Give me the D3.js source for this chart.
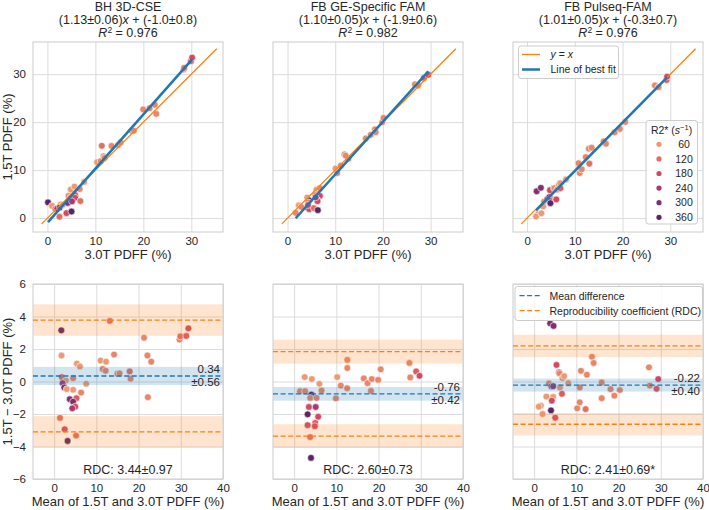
<!DOCTYPE html>
<html>
<head>
<meta charset="utf-8">
<script src="https://cdn.jsdelivr.net/npm/d3@7"></script>
<style>
  body { margin: 0; background: #fff; }
  svg { font-family: "Liberation Sans", Arial, sans-serif; }
  .axis .domain { display: none; }
  .axis line { stroke: #dcdcdc; stroke-width: 1; }
  .axis text { fill: #262626; font-size: 11.5px; }
</style>
</head>
<body>
<script>
// fit results / agreement stats per method
var methods = ["BH 3D-CSE", "FB GE-Specific FAM", "FB Pulseq-FAM"];
var slope = [1.13, 1.10, 1.01], slopeErr = [0.06, 0.05, 0.05],
    icpt = [-1.0, -1.9, -0.3], icptErr = [0.8, 0.6, 0.7],
    rSq = [0.976, 0.982, 0.976];
var meanDiff = [0.34, -0.76, -0.22], meanDiffCI = [0.56, 0.42, 0.40],
    rdc = [3.44, 2.60, 2.41], rdcCI = [0.97, 0.73, 0.69], rdcNote = ["", "", "*"];

// paired PDFF measurements (%), 3.0T vs 1.5T, with R2* (1/s)
var pdff30BH = [0.13, 0.95, 4.85, 5.64, 1.67, 2.77, 4.40, 7.67, 2.05, 2.59, 3.24, 4.76, 6.74, 5.82, 4.25, 5.12, 5.78, 5.13, 2.52, 3.97,
                6.87, 5.03, 11.34, 10.36, 11.69, 11.12, 11.87, 13.37, 14.76, 15.25, 17.59, 18.02, 19.96, 21.30, 22.39, 22.69, 28.41, 28.51, 29.90, 30.17];
var pdff15BH = [3.28, 2.55, 5.95, 6.57, 1.94, 2.83, 4.60, 7.53, 1.95, 2.22, 2.77, 4.25, 6.06, 4.79, 3.16, 3.88, 4.23, 3.48, 0.28, 1.03,
                3.54, 1.37, 15.07, 11.65, 12.91, 11.89, 12.53, 15.03, 15.24, 15.75, 18.21, 18.19, 22.65, 22.90, 23.61, 21.72, 30.99, 31.29, 32.70, 33.44];
var r2BH = [360, 60, 60, 60, 120, 60, 90, 60, 240, 300, 60, 60, 90, 150, 300, 300, 180, 240, 120, 180,
            120, 360, 120, 60, 60, 90, 90, 90, 90, 90, 120, 90, 90, 90, 90, 90, 90, 120, 150, 180];

var pdff30GE = [2.37, 4.13, 6.07, 1.70, 2.90, 6.78, 4.51, 4.31, 5.81, 10.07, 11.18, 12.77, 10.42, 11.94, 12.19, 16.41, 17.45,
                18.33, 19.85, 20.13, 18.49, 26.73, 27.38, 28.59, 29.53, 6.79, 6.28, 4.21, 4.55, 6.28, 5.51, 6.35, 4.29, 5.89];
var pdff15GE = [2.64, 4.28, 5.93, 1.10, 2.30, 6.22, 3.70, 3.30, 4.80, 10.34, 10.93, 12.36, 9.38, 13.27, 13.02, 16.60, 17.35,
                18.48, 19.95, 20.88, 17.91, 27.87, 27.63, 29.21, 29.88, 4.62, 3.73, 2.19, 1.86, 3.53, 2.09, 1.65, 2.72, 4.32];
var r2GE = [60, 60, 60, 90, 90, 90, 360, 90, 90, 60, 90, 90, 90, 90, 90, 90, 90,
            90, 90, 90, 90, 90, 90, 150, 180, 180, 150, 360, 180, 180, 120, 360, 180, 240];

var pdff30PQ = [2.01, 2.89, 4.79, 5.62, 5.75, 6.60, 6.94, 8.15, 3.56, 4.25, 4.65, 6.29, 6.98, 3.37, 4.98, 4.79, 2.35, 1.88, 3.00,
                4.89, 6.12, 10.99, 10.77, 12.29, 11.03, 11.44, 13.05, 12.94, 13.53, 16.03, 16.52, 18.34, 19.44, 20.57, 26.77, 27.53, 29.23, 29.33];
var pdff15PQ = [5.59, 6.31, 5.81, 6.18, 6.25, 6.81, 7.27, 8.05, 3.44, 3.96, 4.36, 5.92, 6.22, 2.44, 4.03, 3.61, 0.86, 0.33, 1.00,
                3.11, 3.89, 10.62, 11.43, 12.71, 9.38, 10.16, 11.35, 14.46, 14.67, 15.97, 15.49, 17.87, 18.57, 20.04, 27.64, 27.28, 28.78, 29.48];
var r2PQ = [300, 300, 180, 270, 90, 60, 60, 60, 90, 300, 270, 60, 150, 60, 60, 180, 60, 60, 60,
            360, 180, 90, 90, 90, 90, 90, 120, 90, 90, 90, 90, 90, 90, 90, 90, 90, 150, 180];

var pdff30 = [pdff30BH, pdff30GE, pdff30PQ],
    pdff15 = [pdff15BH, pdff15GE, pdff15PQ],
    r2s = [r2BH, r2GE, r2PQ];

var xTicksTop = [0, 10, 20, 30], yTicksTop = [0, 10, 20, 30];
var xTicksBot = [0, 10, 20, 30, 40], yTicksBot = [-6, -4, -2, 0, 2, 4, 6];
var hueLegend = [60, 120, 180, 240, 300, 360];

// layout
var W = 709, H = 510;
var lefts = [33, 273, 513], pw = 190;
var topT = 42, topB = 232, botT = 284, botB = 479;
var xDomTop = [[-3.0, 36.6], [-3.05, 36.8], [-2.95, 36.85]], yDomTop = [-2.9, 36.7];
var xDomBot = [-5, 40], yDomBot = [-6, 6];
var identRange = [-1.2, 35.3];

var blue = "#1f77b4", orange = "#ff7f0e", ink = "#262626";
var flare = ["#edb081", "#e98d6b", "#e3685c", "#d14a61", "#b13c6c", "#8f3371", "#6c2b6d", "#4b2362"];
var hue = d3.scaleSequential(d3.piecewise(d3.interpolateRgb, flare)).domain([30, 380]);

var svg = d3.select("body").append("svg").attr("width", W).attr("height", H);

function frame(g, x0, y0, w, h) {
  g.append("rect").attr("x", x0).attr("y", y0).attr("width", w).attr("height", h)
    .attr("fill", "none").attr("stroke", "#cccccc").attr("stroke-width", 1);
}

methods.forEach(function(name, i) {
  var L = lefts[i];
  var pts = pdff30[i].map(function(v, j) {
    return {a: v, b: pdff15[i][j], r: r2s[i][j]};
  });

  // ---------- top: correlation ----------
  var x = d3.scaleLinear().domain(xDomTop[i]).range([L, L + pw]);
  var y = d3.scaleLinear().domain(yDomTop).range([topB, topT]);
  var g = svg.append("g");

  g.append("g").attr("class", "axis").attr("transform", "translate(0," + topB + ")")
    .call(d3.axisBottom(x).tickValues(xTicksTop).tickSize(-(topB - topT)).tickPadding(5));
  g.append("g").attr("class", "axis").attr("transform", "translate(" + L + ",0)")
    .call(d3.axisLeft(y).tickValues(yTicksTop).tickSize(-pw).tickPadding(7)
      .tickFormat(i == 0 ? d3.format("d") : function() { return ""; }));
  frame(g, L, topT, pw, topB - topT);

  g.selectAll(".dot").data(pts).enter().append("circle")
    .attr("cx", function(d) { return x(d.a); })
    .attr("cy", function(d) { return y(d.b); })
    .attr("r", 3.4)
    .attr("fill", function(d) { return hue(d.r); })
    .attr("stroke", "#fff").attr("stroke-width", 0.6);

  var line = d3.line().x(function(d) { return x(d[0]); }).y(function(d) { return y(d[1]); });
  g.append("path").attr("d", line(identRange.map(function(v) { return [v, v]; })))
    .attr("stroke", orange).attr("stroke-width", 1.3).attr("fill", "none");
  var ext = d3.extent(pts, function(d) { return d.a; });
  g.append("path").attr("d", line(ext.map(function(v) { return [v, slope[i] * v + icpt[i]]; })))
    .attr("stroke", blue).attr("stroke-width", 2.5).attr("fill", "none");

  // title
  var cx = L + pw / 2;
  var t = g.append("text").attr("text-anchor", "middle").attr("fill", ink).attr("font-size", 12.5);
  t.append("tspan").attr("x", cx).attr("y", 10.5).text(name);
  var l2 = t.append("tspan").attr("x", cx).attr("y", 23.5);
  l2.append("tspan").text("(" + slope[i].toFixed(2) + "±" + slopeErr[i].toFixed(2) + ")");
  l2.append("tspan").attr("font-style", "italic").text("x");
  l2.append("tspan").text(" + (" + icpt[i].toFixed(1) + "±" + icptErr[i].toFixed(1) + ")");
  var l3 = t.append("tspan").attr("x", cx).attr("y", 36.5);
  l3.append("tspan").attr("font-style", "italic").text("R");
  l3.append("tspan").attr("dy", -4).attr("font-size", 8.5).text("2");
  l3.append("tspan").attr("dy", 4).text(" = " + rSq[i].toFixed(3));

  g.append("text").attr("x", cx).attr("y", 259).attr("text-anchor", "middle")
    .attr("fill", ink).attr("font-size", 13).text("3.0T PDFF (%)");

  // ---------- bottom: Bland-Altman ----------
  var xb = d3.scaleLinear().domain(xDomBot).range([L, L + pw]);
  var yb = d3.scaleLinear().domain(yDomBot).range([botB, botT]);
  var gb = svg.append("g");

  gb.append("g").attr("class", "axis").attr("transform", "translate(0," + botB + ")")
    .call(d3.axisBottom(xb).tickValues(xTicksBot).tickSize(-(botB - botT)).tickPadding(5));
  gb.append("g").attr("class", "axis").attr("transform", "translate(" + L + ",0)")
    .call(d3.axisLeft(yb).tickValues(yTicksBot).tickSize(-pw).tickPadding(7)
      .tickFormat(i == 0 ? d3.format("d") : function() { return ""; }));
  frame(gb, L, botT, pw, botB - botT);

  gb.selectAll(".dot").data(pts).enter().append("circle")
    .attr("cx", function(d) { return xb((d.a + d.b) / 2); })
    .attr("cy", function(d) { return yb(d.b - d.a); })
    .attr("r", 3.4)
    .attr("fill", function(d) { return hue(d.r); })
    .attr("stroke", "#fff").attr("stroke-width", 0.6);

  var m = meanDiff[i];
  var bands = [
    {c: m, h: meanDiffCI[i], col: blue},
    {c: m + rdc[i], h: rdcCI[i], col: orange},
    {c: m - rdc[i], h: rdcCI[i], col: orange}
  ];
  bands.forEach(function(b) {
    gb.append("rect").attr("x", L + 0.5).attr("width", pw - 1)
      .attr("y", yb(b.c + b.h)).attr("height", yb(b.c - b.h) - yb(b.c + b.h))
      .attr("fill", b.col).attr("fill-opacity", 0.2);
    gb.append("line").attr("x1", L).attr("x2", L + pw)
      .attr("y1", yb(b.c)).attr("y2", yb(b.c))
      .attr("stroke", b.col).attr("stroke-width", 1.3).attr("stroke-dasharray", "5,2.6");
  });

  var fmt = function(v) { return v.toFixed(2); };
  gb.append("text").attr("x", L + pw - 3).attr("y", yb(m) - 3).attr("text-anchor", "end")
    .attr("fill", ink).attr("font-size", 11.5).text(fmt(m));
  gb.append("text").attr("x", L + pw - 3).attr("y", yb(m) + 10).attr("text-anchor", "end")
    .attr("fill", ink).attr("font-size", 11.5).text("±" + fmt(meanDiffCI[i]));

  gb.append("text").attr("x", cx).attr("y", 474).attr("text-anchor", "middle")
    .attr("fill", ink).attr("font-size", 12.5)
    .text("RDC: " + fmt(rdc[i]) + "±" + fmt(rdcCI[i]) + rdcNote[i]);

  gb.append("text").attr("x", cx).attr("y", 506).attr("text-anchor", "middle")
    .attr("fill", ink).attr("font-size", 13).text("Mean of 1.5T and 3.0T PDFF (%)");
});

// y labels
svg.append("text").attr("transform", "translate(12," + (topT + topB) / 2 + ") rotate(-90)")
  .attr("text-anchor", "middle").attr("fill", ink).attr("font-size", 13).text("1.5T PDFF (%)");
svg.append("text").attr("transform", "translate(12," + (botT + botB) / 2 + ") rotate(-90)")
  .attr("text-anchor", "middle").attr("fill", ink).attr("font-size", 13).text("1.5T − 3.0T PDFF (%)");

// legend: lines (top right panel)
var lg = svg.append("g").attr("font-size", 10.5).attr("fill", ink);
lg.append("rect").attr("x", 518.5).attr("y", 46).attr("width", 100).attr("height", 32.5).attr("rx", 2.5)
  .attr("fill", "#fff").attr("fill-opacity", 0.8).attr("stroke", "#cccccc");
lg.append("line").attr("x1", 522).attr("x2", 540).attr("y1", 54.5).attr("y2", 54.5)
  .attr("stroke", orange).attr("stroke-width", 1.3);
var ly = lg.append("text").attr("x", 550.5).attr("y", 58.3);
ly.append("tspan").attr("font-style", "italic").text("y");
ly.append("tspan").text(" = ");
ly.append("tspan").attr("font-style", "italic").text("x");
lg.append("line").attr("x1", 522).attr("x2", 540).attr("y1", 69.5).attr("y2", 69.5)
  .attr("stroke", blue).attr("stroke-width", 2.5);
lg.append("text").attr("x", 550.5).attr("y", 73.3).text("Line of best fit");

// legend: R2* hue
var hg = svg.append("g").attr("font-size", 10.5).attr("fill", ink);
hg.append("rect").attr("x", 646).attr("y", 120.5).attr("width", 51.5).attr("height", 103.5).attr("rx", 2.5)
  .attr("fill", "#fff").attr("fill-opacity", 0.8).attr("stroke", "#cccccc");
var ht = hg.append("text").attr("x", 671.5).attr("y", 133.5).attr("text-anchor", "middle");
ht.append("tspan").text("R2* (");
ht.append("tspan").attr("font-style", "italic").text("s");
ht.append("tspan").attr("dy", -4).attr("font-size", 7.5).text("−1");
ht.append("tspan").attr("dy", 4).text(")");
hg.selectAll(".hd").data(hueLegend).enter().append("circle")
  .attr("cx", 659).attr("cy", function(d, k) { return 144.3 + k * 14.6; })
  .attr("r", 2.6).attr("fill", function(d) { return hue(d); });
hg.selectAll(".hl").data(hueLegend).enter().append("text")
  .attr("x", 684).attr("y", function(d, k) { return 148 + k * 14.6; })
  .attr("text-anchor", "middle").text(function(d) { return d; });

// legend: Bland-Altman lines
var bg = svg.append("g").attr("font-size", 10.5).attr("fill", ink);
bg.append("rect").attr("x", 515).attr("y", 286.5).attr("width", 187.5).attr("height", 34).attr("rx", 2.5)
  .attr("fill", "#fff").attr("fill-opacity", 0.8).attr("stroke", "#cccccc");
[["Mean difference", blue], ["Reproducibility coefficient (RDC)", orange]].forEach(function(e, k) {
  var yy = 295.7 + k * 15;
  bg.append("line").attr("x1", 519.5).attr("x2", 540).attr("y1", yy).attr("y2", yy)
    .attr("stroke", e[1]).attr("stroke-width", 1.3).attr("stroke-dasharray", "5,2.6");
  bg.append("text").attr("x", 549.5).attr("y", yy + 3.8).text(e[0]);
});
</script>
</body>
</html>
